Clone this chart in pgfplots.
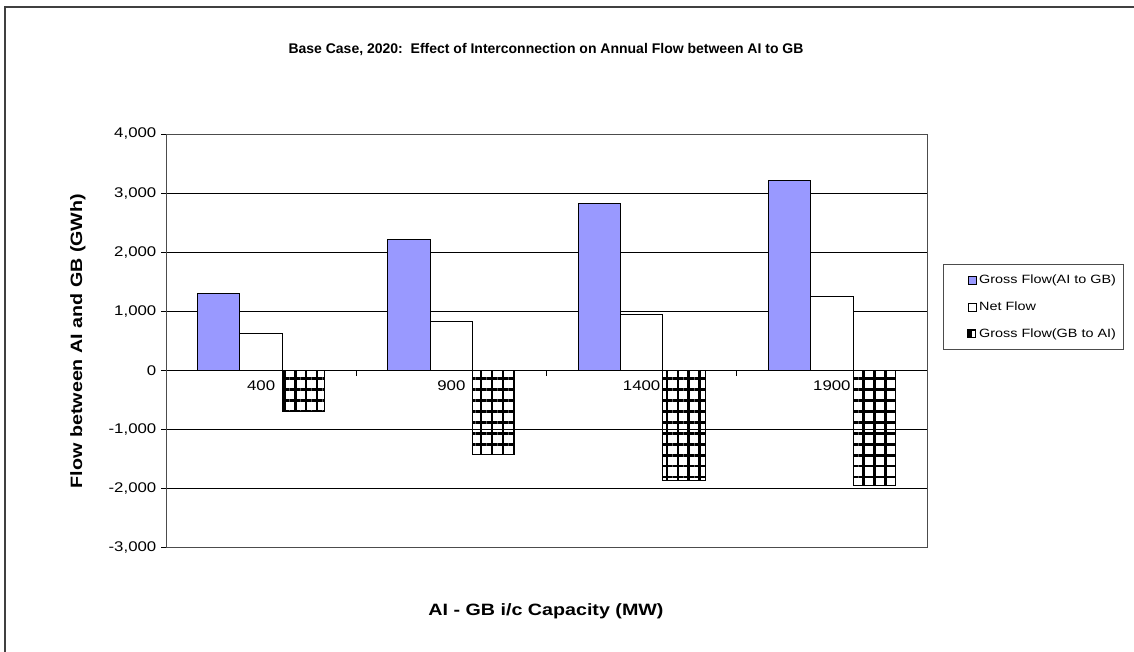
\documentclass[border=0pt]{standalone}
\usepackage{fontspec}
\setmainfont{Liberation Sans}[FakeStretch=1.2]
\newfontfamily\titlefont{Liberation Sans}
\usepackage{pgfplots}
\pgfplotsset{compat=1.18}
\usetikzlibrary{patterns.meta}
\definecolor{grossblue}{HTML}{9999FF}

\pgfplotstableread{
x gross net back
0 1310 630 -690
1 2215 826 -1420
2 2825 956 -1855
3 3220 1260 -1940
}\flowdata

\begin{document}
\begin{tikzpicture}
\useasboundingbox (0,0) rectangle (850.5pt,489pt);
\draw[black!75, line width=1.5pt] (3.75pt,-20pt) -- (3.75pt,483.75pt) -- (870pt,483.75pt);
\node[font=\titlefont\bfseries\fontsize{10.5}{12}\selectfont] at (409.5pt,452pt) {Base Case, 2020:\ \ Effect of Interconnection on Annual Flow between AI to GB};
\node[font=\bfseries\fontsize{12.3}{14}\selectfont, rotate=90] at (58.5pt,233.25pt) {Flow between AI and GB (GWh)};
\node[font=\bfseries\fontsize{12.3}{14}\selectfont] at (409.5pt,30.75pt) {AI - GB i/c Capacity (MW)};
\begin{axis}[
  at={(124.5pt,78pt)}, anchor=south west, scale only axis,
  width=570.75pt, height=310.5pt,
  xmin=-0.5, xmax=3.5, ymin=-3000, ymax=4000,
  ytick={-3000,-2000,...,4000},
  ymajorgrids, grid style={black, line width=0.75pt},
  axis line style={black!70, line width=0.75pt},
  ytick pos=left, tick align=outside, major tick length=3.75pt,
  ytick style={black, line width=0.75pt},
  xtick={0,1,2,3}, xticklabels={400,900,1400,1900},
  xtick style={draw=none},
  x tick label style={yshift=132.75pt, font=\fontsize{10.5}{12}\selectfont},
  y tick label style={font=\fontsize{10.5}{12}\selectfont},
  /pgf/number format/.cd, fixed, 1000 sep={,}, assume math mode=true,
  /pgfplots/.cd,
  ybar, bar width=31.7pt,
  legend style={at={(rel axis cs:1.021,0.686)}, anchor=north west,
    draw=black!70, line width=0.75pt, font=\fontsize{9}{11}\selectfont,
    cells={anchor=west}, row sep=8pt, inner xsep=4pt, inner ysep=6pt},
  legend image code/.code={\path (-14pt,0pt); \draw[#1,line width=0.6pt] (0pt,-3pt) rectangle (6pt,3pt);},
]
\addplot[fill=grossblue, draw=black, line width=0.75pt, bar shift=-31.7pt] table[x=x,y=gross]{\flowdata};
\addplot[fill=white, draw=black, line width=0.75pt, bar shift=0pt] table[x=x,y=net]{\flowdata};
\addplot[pattern={Hatch[angle=0,distance=8.2pt,line width=2pt]}, pattern color=black, draw=black, line width=0.75pt, bar shift=31.7pt,
  legend image code/.code={\path (-14pt,0pt); \fill[black] (0pt,-3pt) rectangle (6pt,3pt); \fill[white] (3.3pt,-2pt) rectangle (4.6pt,2pt);}] table[x=x,y=back]{\flowdata};
\legend{Gross Flow(AI to GB),Net Flow,Gross Flow(GB to AI)}
\draw[black, line width=0.75pt] (axis cs:0.5,0) -- ([yshift=-3.75pt]axis cs:0.5,0);
\draw[black, line width=0.75pt] (axis cs:1.5,0) -- ([yshift=-3.75pt]axis cs:1.5,0);
\draw[black, line width=0.75pt] (axis cs:2.5,0) -- ([yshift=-3.75pt]axis cs:2.5,0);
\end{axis}
\end{tikzpicture}
\end{document}
